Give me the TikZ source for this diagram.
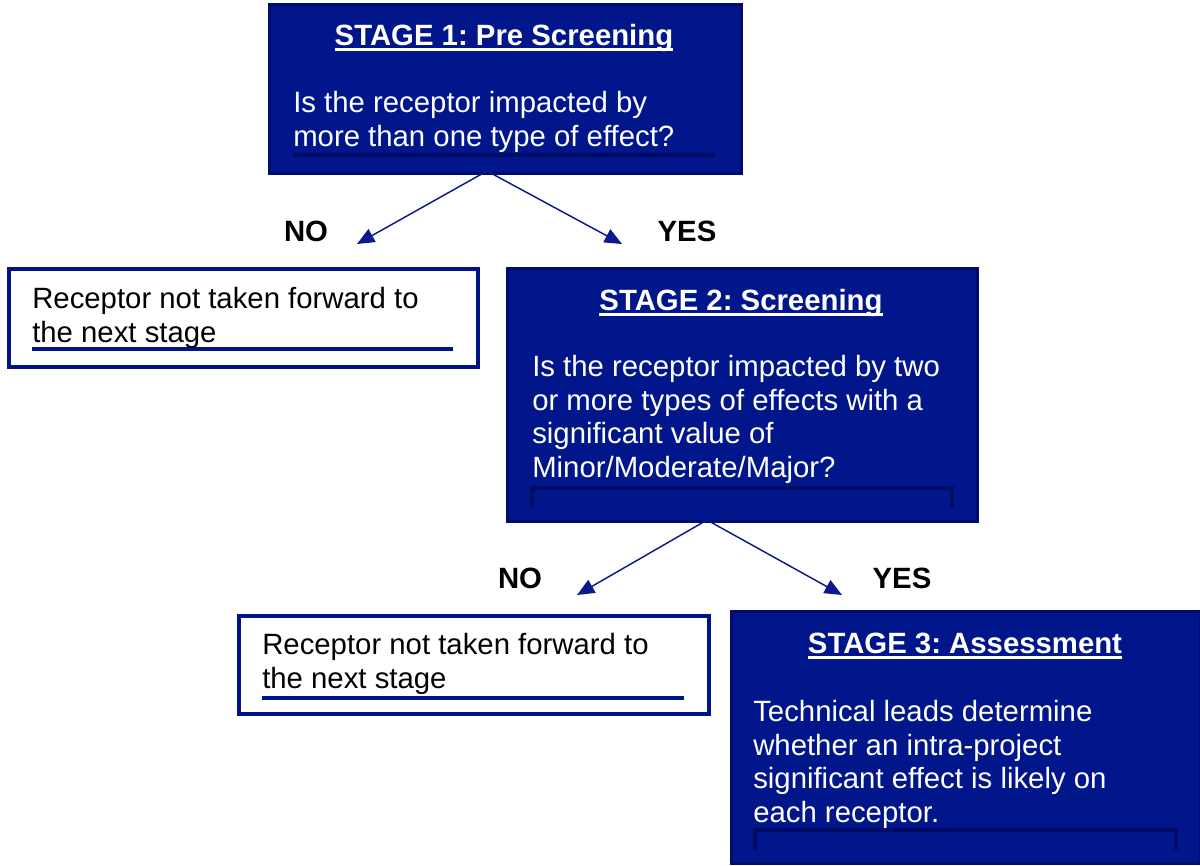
\documentclass[tikz,border=0pt]{standalone}
\usepackage{fontspec}
\setmainfont{Liberation Sans}
\usetikzlibrary{arrows.meta}
\definecolor{navy}{HTML}{00168A}
\definecolor{navyedge}{HTML}{000C6C}
\definecolor{bline}{HTML}{001489}
\definecolor{artline}{HTML}{000B66}
\definecolor{arrowc}{HTML}{0A1A8C}
\newcommand\myuline[1]{\setbox0\hbox{#1}\rlap{\rule[-4.2pt]{\wd0}{2.1pt}}\box0}
\frenchspacing
\begin{document}
\begin{tikzpicture}[x=0.75pt,y=-0.75pt,
  stagebox/.style={draw=navyedge, fill=navy, line width=2.6pt, anchor=north west, inner sep=0},
  outbox/.style={draw=bline, fill=white, line width=3pt, anchor=north west, inner sep=0},
  titletext/.style={text=white, font=\fontsize{22}{25}\selectfont\bfseries\frenchspacing, anchor=base, inner sep=0},
  bodytext/.style={font=\fontsize{22}{25.1}\selectfont\frenchspacing, anchor=base west, align=left, inner sep=0},
  ynlabel/.style={font=\fontsize{22}{25}\selectfont\bfseries, inner sep=0},
  conn/.style={draw=arrowc, line width=1.1pt, -{Triangle[length=13pt,width=11pt]}},
  artifact/.style={draw=artline, line width=2.4pt}]
\useasboundingbox (0,0) rectangle (1200,865);

% boxes
\node[stagebox, minimum width=354pt, minimum height=126.75pt] (b1) at (268,3) {};
\node[outbox, minimum width=351.75pt, minimum height=73.5pt] (b2) at (7,267) {};
\node[stagebox, minimum width=352.5pt, minimum height=189.75pt] (b3) at (506,267) {};
\node[outbox, minimum width=352.5pt, minimum height=73.5pt] (b4) at (237,614) {};
\node[stagebox, minimum width=351.75pt, minimum height=189pt] (b5) at (730,610) {};

% artifact lines
\draw[artifact] (293,155) -- (715,155);
\draw[artifact, draw=bline] (32,349) -- (453,349);
\draw[artifact, draw=bline] (262,698) -- (684,698);
\draw[artifact] (532,507) -- (532,488) -- (952,488) -- (952,507);
\draw[artifact] (755,850) -- (755,830) -- (1176,830) -- (1176,850);

% texts (base anchor = baseline of last line)
\node[titletext] (t1) at (504,45) {\myuline{STAGE 1: Pre Screening}};
\node[bodytext, text=white] (q1) at (293,146) {Is the receptor impacted by\\more than one type of effect?};
\node[bodytext] (r1) at (32,342) {Receptor not taken forward to\\the next stage};
\node[titletext] (t2) at (741,310) {\myuline{STAGE 2: Screening}};
\node[bodytext, text=white] (q2) at (532,477) {Is the receptor impacted by two\\or more types of effects with a\\significant value of\\Minor/Moderate/Major?};
\node[bodytext] (r2) at (262,688) {Receptor not taken forward to\\the next stage};
\node[titletext] (t3) at (965,653) {\myuline{STAGE 3: Assessment}};
\node[bodytext, text=white] (q3) at (753,822) {Technical leads determine\\whether an intra-project\\significant effect is likely on\\each receptor.};

% labels
\node[ynlabel] (no1) at (306,231) {NO};
\node[ynlabel] (yes1) at (687,231) {YES};
\node[ynlabel] (no2) at (520,578) {NO};
\node[ynlabel] (yes2) at (902,578) {YES};

% connectors
\coordinate (s1) at (487,171);
\coordinate (e1) at (357,244);
\coordinate (e2) at (622,244);
\coordinate (s2) at (707,520);
\coordinate (e3) at (577,595);
\coordinate (e4) at (842,595);
\draw[conn] (s1) -- (e1);
\draw[conn] (s1) -- (e2);
\draw[conn] (s2) -- (e3);
\draw[conn] (s2) -- (e4);
\end{tikzpicture}
\end{document}
